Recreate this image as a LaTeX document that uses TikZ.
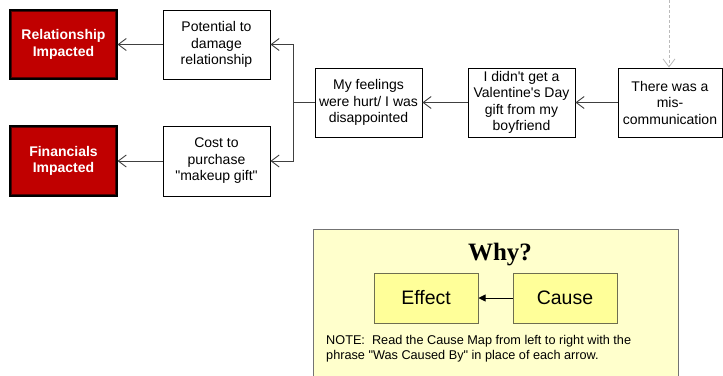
\documentclass[tikz,border=0pt]{standalone}
\usepackage{fontspec}
\setmainfont{Liberation Sans}
\newfontfamily\whyfont{Liberation Serif}
\usetikzlibrary{arrows.meta}
\definecolor{redbox}{HTML}{C00000}
\definecolor{redline}{HTML}{500000}
\definecolor{linegray}{HTML}{404040}
\definecolor{legendbg}{HTML}{FFFFCC}
\definecolor{legendbox}{HTML}{FFFF99}
\definecolor{legendedge}{HTML}{6E6E50}
\definecolor{dashgray}{HTML}{BBBBBB}
\tikzset{
  mapbox/.style={draw=black, line width=0.9pt, fill=white, inner sep=0pt,
    minimum width=107pt, minimum height=69pt, align=center,
    font=\fontsize{14}{16.5}\selectfont},
  impactbox/.style={draw=black, line width=1.1pt, fill=redbox, text=white,
    inner sep=0pt, minimum width=107pt, minimum height=69pt,
    align=center, font=\fontsize{14}{16.5}\selectfont\bfseries},
  innerline/.style={draw=redline, line width=0.8pt},
  arr/.style={draw=linegray, line width=0.9pt, -{Straight Barb[length=8pt,width=12pt]}},
  plainline/.style={draw=linegray, line width=0.9pt},
  dasharr/.style={draw=dashgray, line width=0.8pt, dash pattern=on 3pt off 2pt,
    -{Straight Barb[length=8pt,width=12pt]}},
  legbox/.style={draw=legendedge, line width=1pt, fill=legendbox, inner sep=0pt,
    minimum width=104pt, minimum height=50pt, font=\fontsize{19.5}{22}\selectfont},
}
\begin{document}
\begin{tikzpicture}[x=1pt,y=-1pt]
\useasboundingbox (0,0) rectangle (723,375);
% legend
\fill[legendbg, draw=gray!90!black, line width=1pt] (313,229) rectangle (678,390);
\node[font=\whyfont\fontsize{25}{28}\selectfont\bfseries] (why) at (500,255) {Why?};
\node[legbox] (effect) at (426,298) {Effect};
\node[legbox] (cause) at (565,298) {Cause};
\draw[draw=black, line width=0.8pt, -{Triangle[length=7pt,width=7pt]}] (cause) -- (effect);
\node[anchor=north west, align=left, inner sep=0pt,
  font=\fontsize{12.7}{15}\selectfont] (note) at (326,335)
  {NOTE:\ \ Read the Cause Map from left to right with the\\phrase \textquotedbl Was Caused By\textquotedbl\ in place of each arrow.};
% map
\node[impactbox] (rel) at (63.5,44.5) {Relationship\\Impacted};
\node[impactbox, minimum height=70pt] (fin) at (63.5,161) {Financials\\Impacted};
\draw[innerline] ([shift={(2.2,2.2)}]rel.north west) rectangle ([shift={(-2.2,-2.2)}]rel.south east);
\draw[innerline] ([shift={(2.2,2.2)}]fin.north west) rectangle ([shift={(-2.2,-2.2)}]fin.south east);
\node[mapbox] (pot) at (216.5,44.5) {Potential to\\damage\\relationship};
\node[mapbox, minimum height=70pt] (cost) at (216.5,161) {Cost to\\purchase\\\textquotedbl makeup gift\textquotedbl};
\node[mapbox] (feel) at (368.5,102.5) {My feelings\\were hurt/ I was\\disappointed};
\node[mapbox] (val) at (521.5,102.5) {I didn\textquotesingle t get a\\Valentine\textquotesingle s Day\\gift from my\\boyfriend};
\node[mapbox, minimum width=104pt] (mis) at (670,102.5) {There was a\\mis-\\communication};
\coordinate (j) at (293,102.5);
\coordinate (top) at (669,0);
\draw[arr] (pot) -- (rel);
\draw[arr] (cost) -- (fin);
\draw[plainline] (feel.west) -- (j);
\draw[arr] (j) |- (pot.east);
\draw[arr] (j) |- (cost.east);
\draw[arr] (val) -- (feel);
\draw[arr] (mis) -- (val);
\draw[dasharr] (top) -- (mis.north -| top);
\end{tikzpicture}
\end{document}
